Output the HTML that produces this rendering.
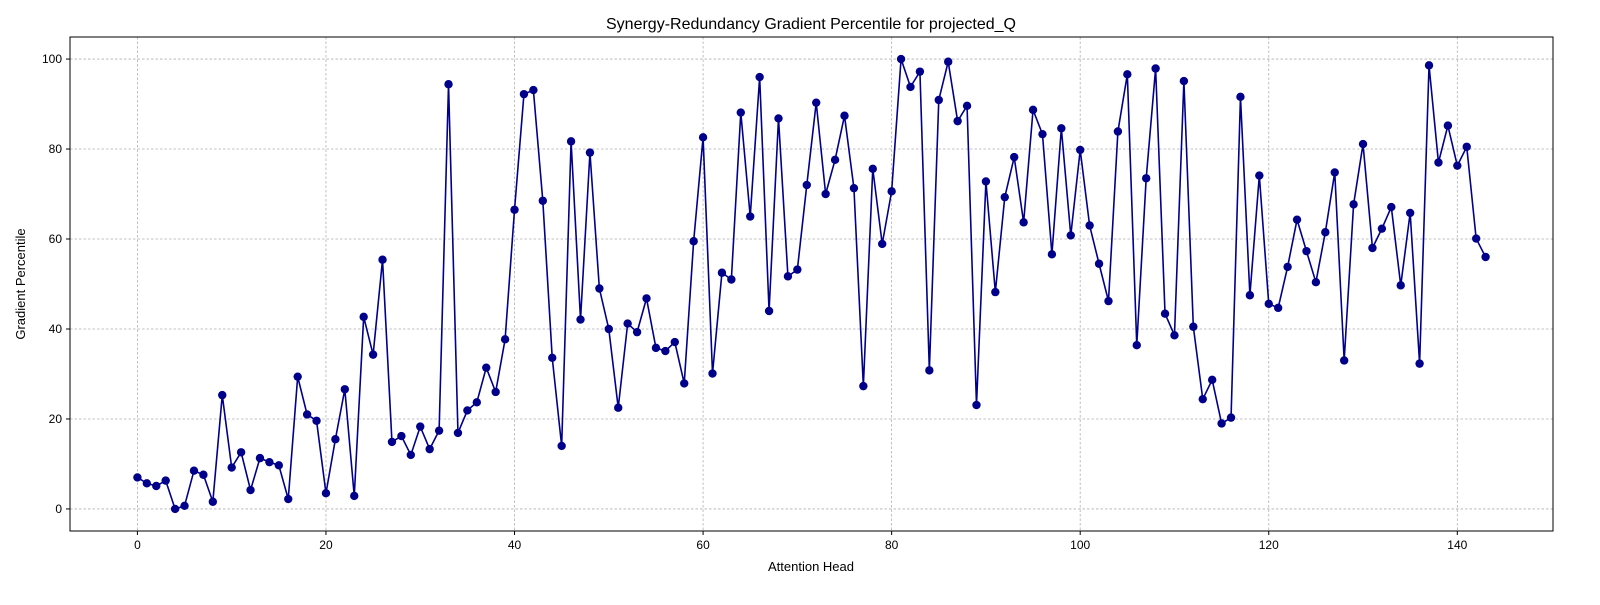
<!DOCTYPE html>
<html><head><meta charset="utf-8"><style>
body{margin:0;background:#fff;}
svg text{font-family:"Liberation Sans","DejaVu Sans",sans-serif;fill:#000;}
</style></head><body>
<svg id="chart" width="1600" height="600" xmlns="http://www.w3.org/2000/svg">
<rect width="1600" height="600" fill="#fff"/>
<g id="grid"></g>
<g id="ticks"></g>
<g id="series"></g>
<rect x="70" y="37" width="1483" height="494" fill="none" stroke="#000" stroke-width="1"/>
<text x="811" y="29" font-size="16" text-anchor="middle">Synergy-Redundancy Gradient Percentile for projected_Q</text>
<text x="811" y="571" font-size="13" text-anchor="middle">Attention Head</text>
<text x="25" y="284" font-size="13" text-anchor="middle" transform="rotate(-90 25 284)">Gradient Percentile</text>
</svg>
<script>
const values = [7,5.7,5.1,6.3,0,0.7,8.5,7.6,1.6,25.3,9.2,12.6,4.2,11.3,10.4,9.7,2.2,29.4,21,19.6,3.5,15.5,26.6,2.9,42.7,34.3,55.4,14.9,16.2,12,18.3,13.3,17.4,94.4,16.9,21.9,23.7,31.4,26,37.7,66.5,92.2,93.1,68.5,33.6,14,81.7,42.1,79.2,49,40,22.5,41.2,39.3,46.8,35.8,35.1,37.1,27.9,59.5,82.6,30.1,52.5,51,88.1,65,96,44,86.8,51.7,53.2,72,90.3,70,77.6,87.4,71.3,27.3,75.6,58.9,70.6,100,93.8,97.2,30.8,90.9,99.4,86.2,89.6,23.1,72.8,48.2,69.3,78.2,63.7,88.7,83.3,56.6,84.6,60.8,79.8,63,54.5,46.2,83.9,96.6,36.4,73.5,97.9,43.4,38.6,95.1,40.5,24.4,28.7,19,20.3,91.6,47.5,74.1,45.6,44.7,53.8,64.3,57.3,50.4,61.5,74.8,33,67.7,81.1,58,62.3,67.1,49.7,65.8,32.3,98.6,77,85.2,76.3,80.5,60.1,56];
const xTicks = [0,20,40,60,80,100,120,140];
const yTicks = [0,20,40,60,80,100];
const X0=70,X1=1553,Y0=531,Y1=37, xmin=-7.15,xmax=150.15,ymin=-4.9,ymax=104.9;
function sx(v){return X0+(v-xmin)/(xmax-xmin)*(X1-X0);}
function sy(v){return Y0-(v-ymin)/(ymax-ymin)*(Y0-Y1);}
const NS="http://www.w3.org/2000/svg";
function mk(tag,attrs,parent){const e=document.createElementNS(NS,tag);for(const k in attrs)e.setAttribute(k,attrs[k]);parent.appendChild(e);return e;}
const grid=document.getElementById('grid'),ticks=document.getElementById('ticks'),series=document.getElementById('series');
xTicks.forEach(t=>{
  const x=sx(t);
  const g=mk('line',{x1:x,x2:x,y1:Y1,y2:Y0,stroke:'#b0b0b0','stroke-width':0.8,'stroke-dasharray':'2.5,2'},grid);
  
  
  mk('line',{x1:x,x2:x,y1:Y0,y2:Y0+4,stroke:'#000'},ticks);
  const l=mk('text',{x:x,y:Y0+18,'font-size':12,'text-anchor':'middle'},ticks);
  l.textContent=t;
  
  
});
yTicks.forEach(t=>{
  const y=sy(t);
  const g=mk('line',{x1:X0,x2:X1,y1:y,y2:y,stroke:'#b0b0b0','stroke-width':0.8,'stroke-dasharray':'2.5,2'},grid);
  
  
  mk('line',{x1:X0-4,x2:X0,y1:y,y2:y,stroke:'#000'},ticks);
  const l=mk('text',{x:X0-8,y:y+4,'font-size':12,'text-anchor':'end'},ticks);
  l.textContent=t;
  
  
});
const pts=values.map((v,i)=>sx(i).toFixed(2)+','+sy(v).toFixed(2)).join(' ');
const line=mk('polyline',{points:pts,fill:'none',stroke:'#00008b','stroke-width':1.6},series);


values.forEach((v,i)=>{
  const c=mk('circle',{cx:sx(i),cy:sy(v),r:4.2,fill:'#00008b'},series);
  
  
});
</script>
</body></html>
